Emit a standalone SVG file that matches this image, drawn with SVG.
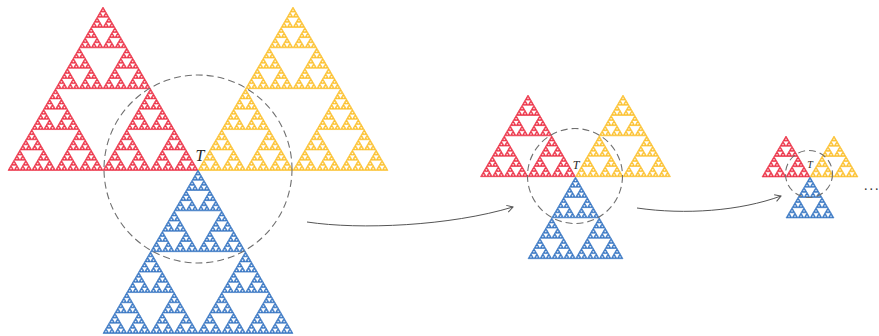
<svg xmlns="http://www.w3.org/2000/svg" xmlns:xlink="http://www.w3.org/1999/xlink" width="879" height="336" viewBox="0 0 879 336">
<style>
.red{fill:#ec3448;stroke:#ec3448;stroke-width:0.42}
.yel{fill:#fcc130;stroke:#fcc130;stroke-width:0.42}
.blu{fill:#3a78c4;stroke:#3a78c4;stroke-width:0.42}
.ring{fill:none;stroke:#707070;stroke-width:1.1;stroke-dasharray:7 4}
.conn{fill:none;stroke:#555;stroke-width:1}
.lab{font-family:"Liberation Serif",serif;font-style:italic;fill:#2a2a2a}
.dots{font-family:"Liberation Serif",serif;fill:#333}
</style>
<defs>
<marker id="arr" markerWidth="10" markerHeight="10" refX="7" refY="5" orient="auto" markerUnits="userSpaceOnUse">
<path d="M1,1.5 L7,5 L1,8.5" fill="none" stroke="#555" stroke-width="1"/>
</marker>
<polygon id="t0" points="0,0 -1,1.72 1,1.72"/>
<g id="t1"><use href="#t0" transform="scale(.5)"/><use href="#t0" transform="translate(-.5,.86) scale(.5)"/><use href="#t0" transform="translate(.5,.86) scale(.5)"/></g>
<g id="t2"><use href="#t1" transform="scale(.5)"/><use href="#t1" transform="translate(-.5,.86) scale(.5)"/><use href="#t1" transform="translate(.5,.86) scale(.5)"/></g>
<g id="t3"><use href="#t2" transform="scale(.5)"/><use href="#t2" transform="translate(-.5,.86) scale(.5)"/><use href="#t2" transform="translate(.5,.86) scale(.5)"/></g>
<g id="t4"><use href="#t3" transform="scale(.5)"/><use href="#t3" transform="translate(-.5,.86) scale(.5)"/><use href="#t3" transform="translate(.5,.86) scale(.5)"/></g>
<g id="t5"><use href="#t4" transform="scale(.5)"/><use href="#t4" transform="translate(-.5,.86) scale(.5)"/><use href="#t4" transform="translate(.5,.86) scale(.5)"/></g>
<g id="t6"><use href="#t5" transform="scale(.5)"/><use href="#t5" transform="translate(-.5,.86) scale(.5)"/><use href="#t5" transform="translate(.5,.86) scale(.5)"/></g>
</defs>
<rect width="879" height="336" fill="#fff"/>

<g id="big">
<g id="big-red"><use href="#t6" class="red" transform="translate(103,7) scale(95)"/></g>
<g id="big-yellow"><use href="#t6" class="yel" transform="translate(293,7) scale(95)"/></g>
<g id="big-blue"><use href="#t6" class="blu" transform="translate(198,170) scale(95)"/></g>
<g id="big-ring"><circle class="ring" cx="198" cy="169" r="94"/><text class="lab" x="200" y="161" font-size="16" text-anchor="middle">T</text></g>
</g>

<g id="mid">
<g id="mid-red"><use href="#t5" class="red" transform="translate(528,95) scale(47.5)"/></g>
<g id="mid-yellow"><use href="#t5" class="yel" transform="translate(623,95) scale(47.5)"/></g>
<g id="mid-blue"><use href="#t5" class="blu" transform="translate(575.5,177) scale(47.5)"/></g>
<g id="mid-ring"><circle class="ring" cx="575" cy="176" r="47.5"/><text class="lab" x="576" y="169" font-size="12" text-anchor="middle">T</text></g>
</g>

<g id="small">
<g id="small-red"><use href="#t4" class="red" transform="translate(786,136) scale(24,23.8)"/></g>
<g id="small-yellow"><use href="#t4" class="yel" transform="translate(834,136) scale(24,23.8)"/></g>
<g id="small-blue"><use href="#t4" class="blu" transform="translate(810,177) scale(24,23.8)"/></g>
<g id="small-ring"><circle class="ring" cx="809" cy="174" r="23.5" stroke-dasharray="5 3"/><text class="lab" x="810" y="168" font-size="10" text-anchor="middle">T</text></g>
</g>

<g id="connectors">
<path class="conn" d="M307,222 C360,230 450,226 513,207" marker-end="url(#arr)"/>
<path class="conn" d="M637,208 C685,215 740,211 781,196" marker-end="url(#arr)"/>
</g>

<text class="dots" x="864" y="190" font-size="14" letter-spacing="2">...</text>
</svg>
